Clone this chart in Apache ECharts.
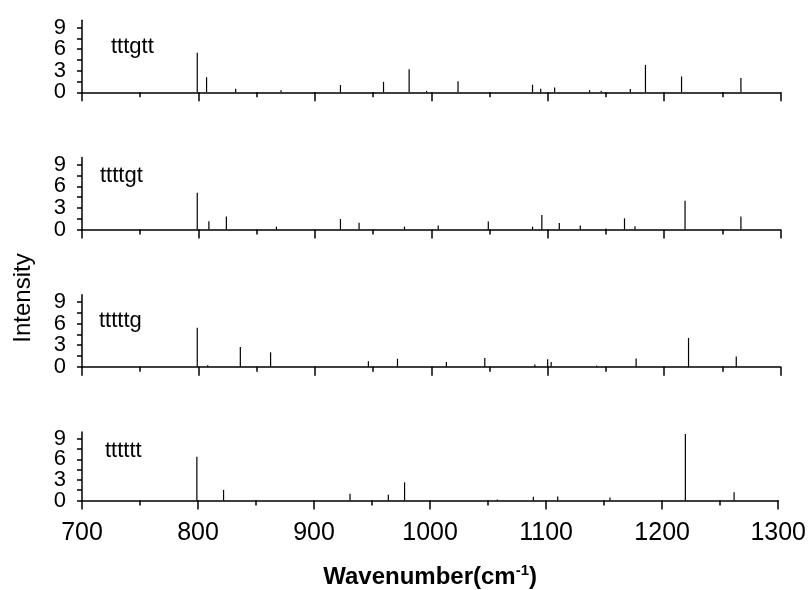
<!DOCTYPE html>
<html>
<head>
<meta charset="utf-8">
<script src="https://cdn.jsdelivr.net/npm/echarts@6/dist/echarts.min.js"></script>
<style>
  html, body { margin: 0; padding: 0; background: #fff; }
  #chart { width: 809px; height: 590px; }
</style>
</head>
<body>
<div id="chart"></div>
<script>
// Conformer names, one stick spectrum per panel (top to bottom)
const panelNames = ['tttgtt', 'ttttgt', 'tttttg', 'tttttt'];

// Stick positions (cm^-1) and intensities for each conformer
const tttgttFreq = [799, 807, 832, 871, 922, 959, 981, 996, 1023, 1087, 1094, 1106, 1136, 1146, 1171, 1184, 1215, 1266];
const tttgttInt  = [5.5, 2.1, 0.5, 0.3, 1.0, 1.45, 3.2, 0.2, 1.55, 1.05, 0.5, 0.65, 0.3, 0.2, 0.45, 3.8, 2.2, 2.0];

const ttttgtFreq = [799, 809, 824, 867, 922, 938, 977, 1006, 1049, 1087, 1095, 1110, 1128, 1150, 1166, 1175, 1218, 1266];
const ttttgtInt  = [5.1, 1.15, 1.8, 0.4, 1.45, 0.95, 0.4, 0.55, 1.1, 0.4, 2.0, 0.9, 0.55, 0.15, 1.55, 0.45, 4.0, 1.8];

const tttttgFreq = [799, 808, 836, 862, 946, 971, 1013, 1046, 1089, 1100, 1103, 1142, 1176, 1221, 1262];
const tttttgInt  = [5.4, 0.2, 2.75, 2.0, 0.75, 1.1, 0.65, 1.2, 0.3, 1.05, 0.65, 0.15, 1.15, 4.0, 1.4];

const ttttttFreq = [799, 822, 931, 964, 978, 1058, 1089, 1110, 1155, 1220, 1262];
const ttttttInt  = [6.4, 1.55, 1.0, 0.85, 2.65, 0.15, 0.55, 0.6, 0.45, 9.7, 1.2];

// Axis ranges and tick steps
const xMin = 700, xMax = 1300, xMajorStep = 100;
const yMin = 0, yMax = 10, yTickStep = 1.5, yLabelStep = 3, yLabelMax = 9;

const spectra = [
  [tttgttFreq, tttgttInt],
  [ttttgtFreq, ttttgtInt],
  [tttttgFreq, tttttgInt],
  [ttttttFreq, ttttttInt]
];

const FONT = "'Liberation Sans', Arial, sans-serif";
const panelBaselines = [92.3, 229.5, 366.7, 504];
const panelHeight = 72;
const gridLeft = 82, gridRight = 28.5;

// anchors for the conformer names: [left, vertical middle]
const nameAnchors = [[111, 46.5], [100, 176], [99, 320.5], [105, 450.5]];

const grids = [], xAxes = [], yAxes = [], series = [], graphics = [];
const black = '#000';

spectra.forEach(function (s, i) {
  const isLast = i === spectra.length - 1;
  grids.push({ left: gridLeft, right: gridRight, top: panelBaselines[i] - panelHeight, height: panelHeight });

  xAxes.push({
    gridIndex: i,
    type: 'value',
    min: xMin, max: xMax, interval: xMajorStep,
    axisLine: { show: true, onZero: false, lineStyle: { color: black, width: 1.5 } },
    axisTick: { show: true, inside: false, length: 9, lineStyle: { color: black, width: 1.5 } },
    minorTick: { show: true, splitNumber: 2, length: 5, lineStyle: { color: black, width: 1.5 } },
    splitLine: { show: false },
    axisLabel: {
      show: isLast, margin: 20, fontSize: 25, fontFamily: FONT, color: black,
      formatter: function (v) { return String(v); }
    },
    name: isLast ? '{t|Wavenumber(cm}{s|-1}{t|)}' : '',
    nameLocation: 'middle',
    nameGap: 63,
    nameTextStyle: {
      rich: {
        t: { fontSize: 24, fontWeight: 'bold', fontFamily: FONT, color: black },
        s: { fontSize: 15, fontWeight: 'bold', fontFamily: FONT, color: black, verticalAlign: 'top', padding: [0, 0, 12, 0] }
      }
    }
  });

  yAxes.push({
    gridIndex: i,
    type: 'value',
    min: yMin, max: yMax, interval: yTickStep,
    axisLine: { show: true, onZero: false, lineStyle: { color: black, width: 1.5 } },
    axisTick: { show: true, inside: false, length: 5, lineStyle: { color: black, width: 1.5 } },
    splitLine: { show: false },
    axisLabel: {
      margin: 16, fontSize: 22, fontFamily: FONT, color: black,
      showMinLabel: true, showMaxLabel: false,
      formatter: function (v) {
        return (v % yLabelStep === 0 && v <= yLabelMax) ? String(v) : '';
      }
    }
  });

  series.push({
    type: 'bar',
    xAxisIndex: i,
    yAxisIndex: i,
    barWidth: 1.2,
    itemStyle: { color: black },
    data: s[0].map(function (f, k) { return [f, s[1][k]]; })
  });

  graphics.push({
    type: 'text',
    x: nameAnchors[i][0],
    y: nameAnchors[i][1],
    style: {
      text: panelNames[i], fontSize: 22, fontFamily: FONT, fill: black,
      textAlign: 'left', textVerticalAlign: 'middle', align: 'left', verticalAlign: 'middle'
    }
  });
});

graphics.push({
  type: 'text',
  rotation: Math.PI / 2,
  x: 23, y: 298,
  style: {
    text: 'Intensity', fontSize: 24, fontFamily: FONT, fill: black,
    textAlign: 'center', textVerticalAlign: 'middle', align: 'center', verticalAlign: 'middle'
  }
});

const chart = echarts.init(document.getElementById('chart'), null, { renderer: 'canvas' });
chart.setOption({
  animation: false,
  backgroundColor: '#fff',
  grid: grids,
  xAxis: xAxes,
  yAxis: yAxes,
  series: series,
  graphic: graphics
});
</script>
</body>
</html>
